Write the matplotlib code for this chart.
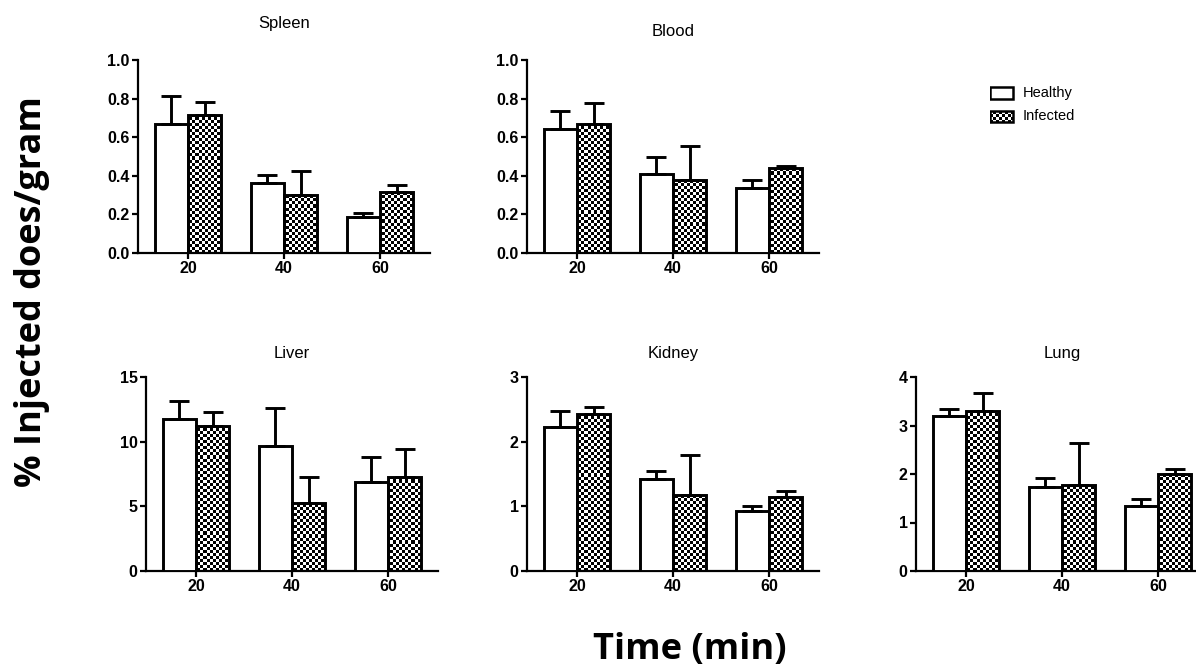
import numpy as np
import matplotlib
matplotlib.use('Agg')
from matplotlib import pyplot as plt
from matplotlib.patches import Rectangle

plt.rcParams['font.family'] = ['Liberation Sans', 'DejaVu Sans']

times = ['20', '40', '60']
groups = ['Healthy', 'Infected']

organs = ['Spleen', 'Blood', 'Liver', 'Kidney', 'Lung']

# mean values (Healthy, Infected) and upper error bars
spleen_healthy = [0.668, 0.364, 0.188]
spleen_infected = [0.715, 0.299, 0.318]
spleen_healthy_err = [0.147, 0.040, 0.021]
spleen_infected_err = [0.065, 0.128, 0.033]

blood_healthy = [0.641, 0.407, 0.339]
blood_infected = [0.669, 0.379, 0.440]
blood_healthy_err = [0.097, 0.088, 0.037]
blood_infected_err = [0.110, 0.176, 0.012]

liver_healthy = [11.75, 9.68, 6.87]
liver_infected = [11.18, 5.24, 7.30]
liver_healthy_err = [1.37, 2.92, 1.98]
liver_infected_err = [1.09, 2.06, 2.15]

kidney_healthy = [2.23, 1.42, 0.935]
kidney_infected = [2.43, 1.17, 1.14]
kidney_healthy_err = [0.24, 0.12, 0.075]
kidney_infected_err = [0.10, 0.62, 0.09]

lung_healthy = [3.19, 1.74, 1.33]
lung_infected = [3.29, 1.78, 2.01]
lung_healthy_err = [0.16, 0.18, 0.16]
lung_infected_err = [0.37, 0.86, 0.10]

ymax = [1.0, 1.0, 15, 3, 4]
yticks = [[0.0, 0.2, 0.4, 0.6, 0.8, 1.0], [0.0, 0.2, 0.4, 0.6, 0.8, 1.0],
          [0, 5, 10, 15], [0, 1, 2, 3], [0, 1, 2, 3, 4]]
ytick_labels = [['0.0', '0.2', '0.4', '0.6', '0.8', '1.0'],
                ['0.0', '0.2', '0.4', '0.6', '0.8', '1.0'],
                ['0', '5', '10', '15'], ['0', '1', '2', '3'], ['0', '1', '2', '3', '4']]

data = [
    (spleen_healthy, spleen_infected, spleen_healthy_err, spleen_infected_err),
    (blood_healthy, blood_infected, blood_healthy_err, blood_infected_err),
    (liver_healthy, liver_infected, liver_healthy_err, liver_infected_err),
    (kidney_healthy, kidney_infected, kidney_healthy_err, kidney_infected_err),
    (lung_healthy, lung_infected, lung_healthy_err, lung_infected_err),
]

W, H = 1196, 668
fig = plt.figure(figsize=(W / 100, H / 100), dpi=100)

# axes boxes in pixels: left, top, width, height
boxes = [(138, 60, 292, 193), (527, 60, 292, 193),
         (146, 377, 292, 194), (527, 377, 292, 194), (916, 377, 292, 194)]
title_pads = [23, 17, 14, 14, 14]

bw = 0.345
lw = 2.1


def checker(ax, patch, nx, ny, xlim, ylim):
    cb = np.indices((ny, nx)).sum(axis=0) % 2
    im = ax.imshow(cb, cmap='gray', extent=(xlim[0], xlim[1], ylim[0], ylim[1]),
                   aspect='auto', interpolation='nearest', zorder=2)
    im.set_clip_path(patch)


for k, organ in enumerate(organs):
    l, t, w, h = boxes[k]
    ax = fig.add_axes([l / W, (H - t - h) / H, w / W, h / H])
    hv, iv, he, ie = data[k]
    x = np.arange(len(times))
    xlim = (-0.52, 2.52)
    ylim = (0, ymax[k])

    for i in range(len(times)):
        ax.bar(x[i] - bw / 2, hv[i], bw, color='white', edgecolor='black', linewidth=lw, zorder=3)
        face = ax.bar(x[i] + bw / 2, iv[i], bw, color='white', edgecolor='none', zorder=1)[0]
        checker(ax, face, w // 3, h // 3, xlim, ylim)
        ax.bar(x[i] + bw / 2, iv[i], bw, fill=False, edgecolor='black', linewidth=lw, zorder=3)

    ax.errorbar(x - bw / 2, hv, yerr=[np.zeros(3), he], fmt='none', ecolor='black',
                elinewidth=lw, capsize=7, capthick=lw, zorder=4)
    ax.errorbar(x + bw / 2, iv, yerr=[np.zeros(3), ie], fmt='none', ecolor='black',
                elinewidth=lw, capsize=7, capthick=lw, zorder=4)

    ax.set_xlim(*xlim)
    ax.set_ylim(*ylim)
    ax.set_xticks(x)
    ax.set_xticklabels(times, fontweight='bold', fontsize=11.5)
    ax.set_yticks(yticks[k])
    ax.set_yticklabels(ytick_labels[k], fontweight='bold', fontsize=11.5)
    for s in ['top', 'right']:
        ax.spines[s].set_visible(False)
    for s in ['left', 'bottom']:
        ax.spines[s].set_linewidth(1.6)
    ax.tick_params(width=1.6, length=4, pad=2)
    ax.set_title(organ, fontsize=12, pad=title_pads[k])

# legend drawn in a small pixel-unit axes
lax = fig.add_axes([990 / W, (H - 126) / H, 100 / W, 42 / H])
lax.axis('off')
lax.add_patch(Rectangle((0, 3), 23, 12, facecolor='white', edgecolor='black', linewidth=1.8))
inf_box = Rectangle((0, 27), 23, 11, facecolor='white', edgecolor='none')
lax.add_patch(inf_box)
checker(lax, inf_box, 33, 14, (0, 100), (42, 0))
lax.add_patch(Rectangle((0, 27), 23, 11, fill=False, edgecolor='black', linewidth=1.8, zorder=3))
lax.set_xlim(0, 100)
lax.set_ylim(42, 0)
lax.text(33, 9, groups[0], fontsize=10.5, va='center')
lax.text(33, 32.5, groups[1], fontsize=10.5, va='center')

fig.text(0.027, 0.563, '% Injected does/gram', rotation=90, ha='center', va='center',
         fontsize=26, fontweight='bold', family=['Open Sans', 'DejaVu Sans'])
fig.text(0.577, 0.027, 'Time (min)', ha='center', va='center',
         fontsize=26, fontweight='bold', family=['Open Sans', 'DejaVu Sans'])

fig.savefig('out.png', dpi=100)
